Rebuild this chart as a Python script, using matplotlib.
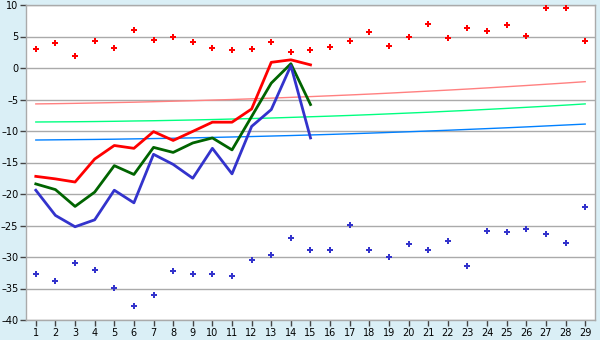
import matplotlib
matplotlib.use("Agg")
import matplotlib.pyplot as plt
import numpy as np

days = list(range(1, 30))

upper_points = [3.0, 3.97, 1.9, 4.3, 3.2, 6.0, 4.4, 4.9, 4.1, 3.2,
                2.86, 3.0, 4.1, 2.5, 2.86, 3.3, 4.3, 5.7, 3.5, 4.9,
                7.0, 4.76, 6.35, 5.87, 6.8, 5.08, 9.5, 9.5, 4.3]
lower_points = [-32.7, -33.8, -30.95, -32.06, -34.9, -37.8, -36.0, -32.2, -32.7, -32.7,
                -33.0, -30.5, -29.7, -27.0, -28.9, -28.9, -24.9, -28.9, -30.0, -27.9,
                -28.9, -27.46, -31.4, -25.9, -26.0, -25.6, -26.3, -27.8, -22.1]

line_days = list(range(1, 16))
red_line = [-17.2, -17.6, -18.1, -14.45, -12.3, -12.75, -10.1, -11.5, -10.06, -8.6,
            -8.6, -6.5, 0.9, 1.3, 0.5]
green_line = [-18.4, -19.3, -21.97, -19.7, -15.5, -16.9, -12.6, -13.4, -11.9, -11.1,
              -13.0, -7.7, -2.4, 0.68, -5.8]
blue_line = [-19.4, -23.4, -25.2, -24.1, -19.4, -21.4, -13.7, -15.3, -17.5, -12.75,
             -16.8, -9.27, -6.6, 0.37, -11.1]

pink_trend = [-5.70, -5.66, -5.61, -5.55, -5.49, -5.43, -5.35, -5.27, -5.19, -5.09,
              -5.00, -4.89, -4.78, -4.66, -4.54, -4.41, -4.28, -4.14, -3.99, -3.83,
              -3.67, -3.51, -3.34, -3.16, -2.97, -2.78, -2.58, -2.38, -2.17]
green_trend = [-8.57, -8.55, -8.53, -8.50, -8.46, -8.41, -8.37, -8.31, -8.25, -8.18,
               -8.10, -8.02, -7.94, -7.84, -7.74, -7.64, -7.53, -7.41, -7.28, -7.15,
               -7.02, -6.87, -6.73, -6.57, -6.41, -6.24, -6.07, -5.89, -5.70]
blue_trend = [-11.43, -11.40, -11.37, -11.34, -11.30, -11.25, -11.20, -11.15, -11.09, -11.02,
              -10.95, -10.88, -10.80, -10.72, -10.63, -10.54, -10.44, -10.34, -10.23, -10.12,
              -10.00, -9.88, -9.75, -9.62, -9.49, -9.35, -9.20, -9.05, -8.90]

y_ticks = [-40, -35, -30, -25, -20, -15, -10, -5, 0, 5, 10]

bg = "#DAEFF6"
fig = plt.figure(figsize=(6, 3.4), dpi=100, facecolor=bg)
ax = fig.add_axes([26 / 600, 1 - 320 / 340, 569 / 600, 315 / 340])
ax.set_facecolor("white")

for yv in y_ticks:
    ax.axhline(yv, color="#AAAAAA", lw=1.0, zorder=0)

ax.plot(days, pink_trend, color="#FF8080", lw=1.0, zorder=2)
ax.plot(days, green_trend, color="#00FF80", lw=1.0, zorder=2)
ax.plot(days, blue_trend, color="#0080FF", lw=1.0, zorder=2)

ax.plot(line_days, red_line, color="#FF0000", lw=2.0, zorder=3)
ax.plot(line_days, green_line, color="#006400", lw=2.0, zorder=3)
ax.plot(line_days, blue_line, color="#3333CC", lw=2.0, zorder=3)

ax.plot(days, upper_points, linestyle="none", marker="P", markersize=4.8,
        color="#FF0000", markeredgewidth=0, zorder=4)
ax.plot(days, lower_points, linestyle="none", marker="P", markersize=4.5,
        color="#3333CC", markeredgewidth=0, zorder=4)

ax.set_xlim(0.5, 29.5)
ax.set_ylim(-40, 10)
ax.set_xticks(days)
ax.set_xticklabels([str(d) for d in days])
ax.set_yticks(y_ticks)
ax.set_yticklabels([str(v).replace("-", "\u2013") for v in y_ticks])

for s in ax.spines.values():
    s.set_color("#AAAAAA")
    s.set_linewidth(1.0)
ax.tick_params(axis="both", colors="#444444", labelcolor="black", labelsize=7,
               length=4, width=1, pad=1.5)
for lab in ax.get_xticklabels() + ax.get_yticklabels():
    lab.set_family("DejaVu Sans")

fig.savefig("out.png", dpi=100, facecolor=bg)
